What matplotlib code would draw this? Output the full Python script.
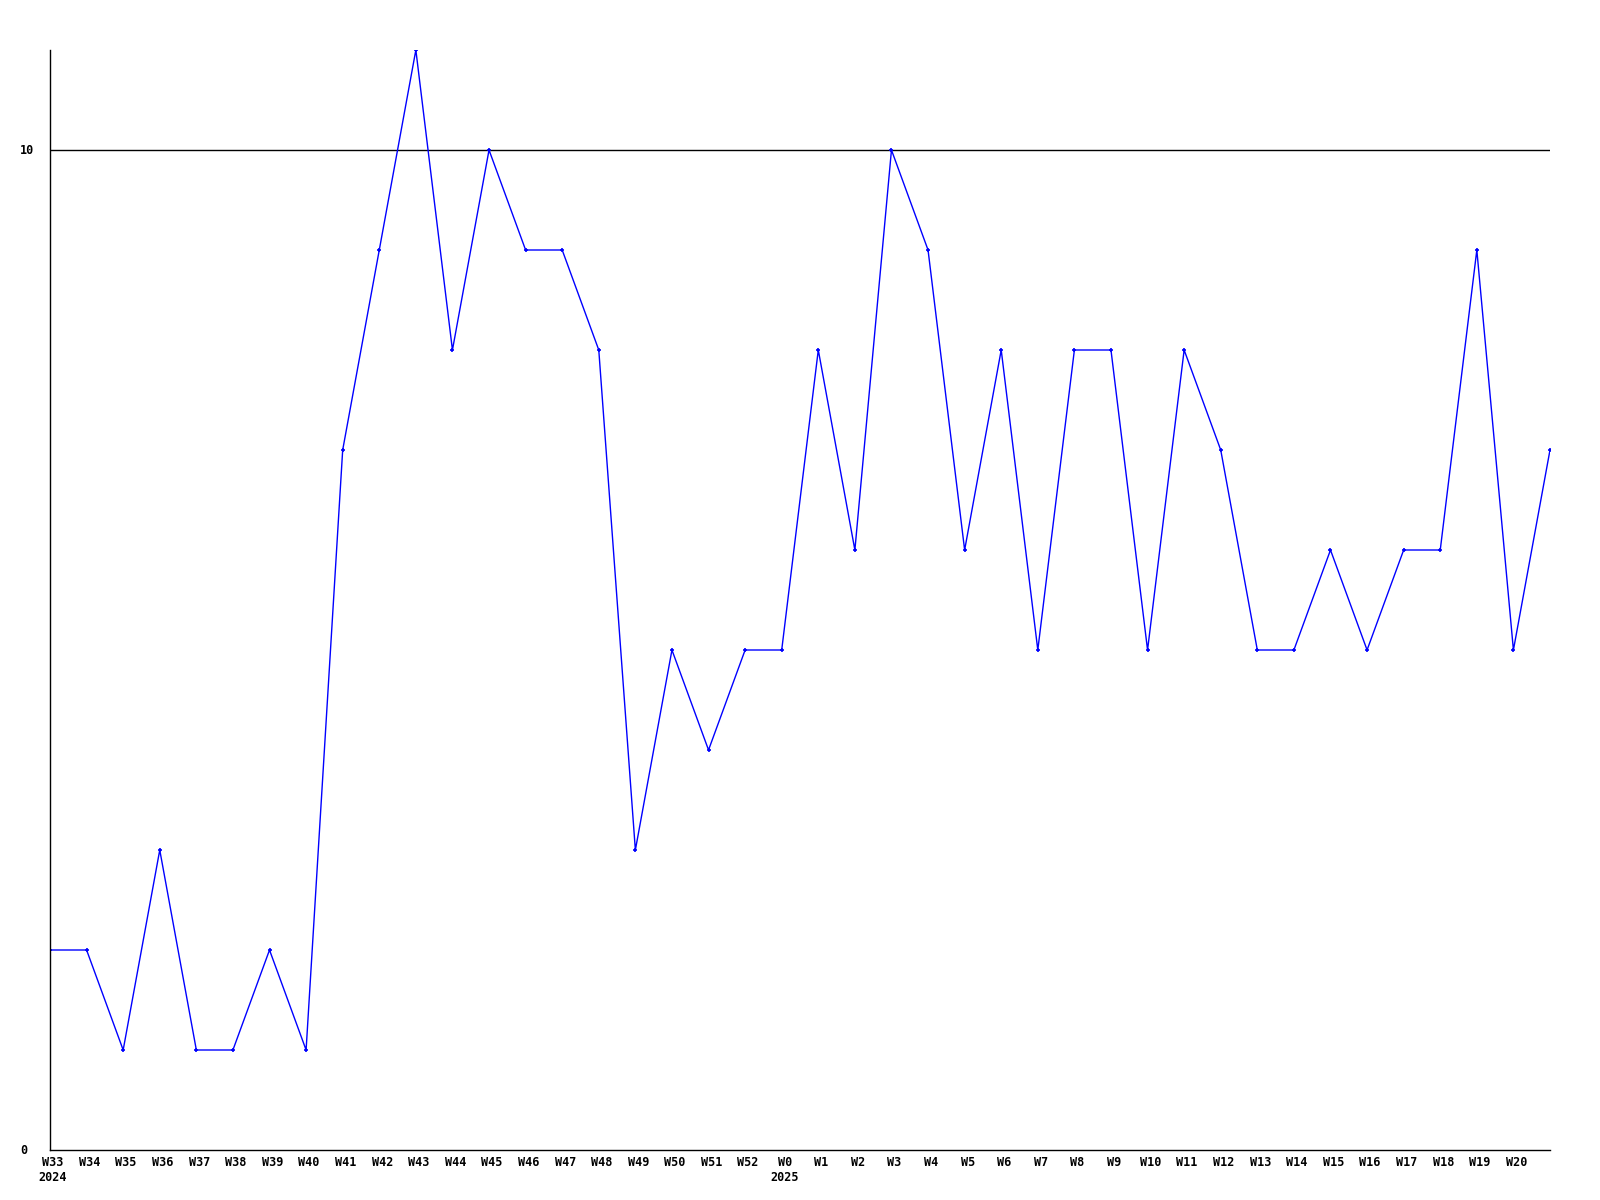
import matplotlib
matplotlib.use("Agg")
import matplotlib.pyplot as plt
from matplotlib.transforms import offset_copy, blended_transform_factory

weeks = ["W33", "W34", "W35", "W36", "W37", "W38", "W39", "W40", "W41", "W42",
         "W43", "W44", "W45", "W46", "W47", "W48", "W49", "W50", "W51", "W52",
         "W0", "W1", "W2", "W3", "W4", "W5", "W6", "W7", "W8", "W9",
         "W10", "W11", "W12", "W13", "W14", "W15", "W16", "W17", "W18", "W19",
         "W20", ""]
values = [2, 2, 1, 3, 1, 1, 2, 1, 7, 9,
          11, 8, 10, 9, 9, 8, 3, 5, 4, 5,
          5, 8, 6, 10, 9, 6, 8, 5, 8, 8,
          5, 8, 7, 5, 5, 6, 5, 6, 6, 9,
          5, 7]
year_labels = {"W33": "2024", "W0": "2025"}
y_ticks = [0, 10]

fig = plt.figure(figsize=(16, 12), dpi=100)
ax = fig.add_axes([50 / 1600, 50 / 1200, 1500 / 1600, 1100 / 1200])

x = list(range(len(values)))
ax.plot(x, values, color="#0000ff", linewidth=1.0, marker="+", markersize=3,
        markeredgewidth=1.2)

ax.set_xlim(0, len(values) - 1)
ax.set_ylim(0, 11)

ax.axhline(10, color="black", linewidth=1.0, zorder=0)

for side in ["top", "right"]:
    ax.spines[side].set_visible(False)
for side in ["left", "bottom"]:
    ax.spines[side].set_linewidth(1.0)
    ax.spines[side].set_color("black")

font = dict(family="DejaVu Sans Mono", fontweight="bold", fontsize=8.5)

ax.set_xticks([])
ax.set_yticks([])

ytrans = blended_transform_factory(fig.transFigure, ax.transData)
for v in y_ticks:
    ax.text(20 / 1600, v, str(v), transform=ytrans, ha="left", va="center", **font)

for i, w in enumerate(weeks):
    if not w:
        continue
    trans = offset_copy(ax.get_xaxis_transform(), fig=fig, x=3, y=-6, units="dots")
    ax.text(i, 0, w, transform=trans, ha="center", va="top", **font)
    if w in year_labels:
        trans2 = offset_copy(ax.get_xaxis_transform(), fig=fig, x=3, y=-21, units="dots")
        ax.text(i, 0, year_labels[w], transform=trans2, ha="center", va="top", **font)

fig.savefig("out.png", dpi=100, facecolor="white")
